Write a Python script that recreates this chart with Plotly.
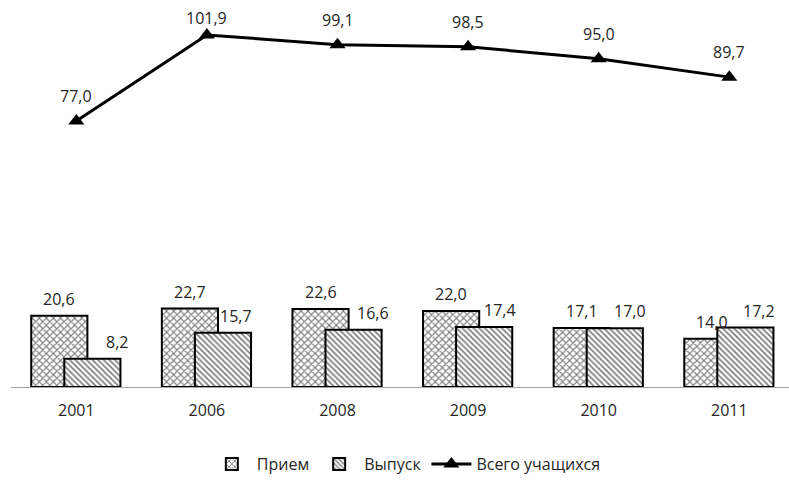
import plotly.graph_objects as go

# Data
years = ["2001", "2006", "2008", "2009", "2010", "2011"]
priem = [20.6, 22.7, 22.6, 22.0, 17.1, 14.0]      # Прием
vypusk = [8.2, 15.7, 16.6, 17.4, 17.0, 17.2]      # Выпуск
vsego = [77.0, 101.9, 99.1, 98.5, 95.0, 89.7]     # Всего учащихся

xs = list(range(len(years)))
FONT = "Open Sans"
TXT = "#262626"

BAR_W = 0.43
OFF_P = -0.345
OFF_V = -0.092
# label nudges (px)
v_label_shift = [25, 13, 19, 16, 15, 14]
line_label_lift = [25, 17, 25, 25, 25, 25]


def fmt(v):
    return f"{v:.1f}".replace(".", ",")


fig = go.Figure()

fig.add_trace(go.Bar(
    name="Прием", x=xs, y=priem, width=BAR_W, offset=OFF_P,
    marker=dict(color="white", line=dict(color="black", width=2),
                pattern=dict(shape="x", size=5, solidity=0.4,
                             fgcolor="black", bgcolor="white")),
))
fig.add_trace(go.Bar(
    name="Выпуск", x=xs, y=vypusk, width=BAR_W, offset=OFF_V,
    marker=dict(color="white", line=dict(color="black", width=2),
                pattern=dict(shape="\\", size=4, solidity=0.45,
                             fgcolor="black", bgcolor="white")),
))
fig.add_trace(go.Scatter(
    name="Всего учащихся", x=xs, y=vsego, mode="lines+markers",
    line=dict(color="black", width=3),
    marker=dict(symbol="triangle-up", size=14, color="black"),
))

ann = []
for i, v in enumerate(priem):
    ann.append(dict(x=i + OFF_P + BAR_W / 2, y=v, text=fmt(v), showarrow=False,
                    yshift=17, yanchor="middle"))
for i, v in enumerate(vypusk):
    ann.append(dict(x=i + OFF_V + BAR_W / 2, y=v, text=fmt(v), showarrow=False,
                    yshift=17, xshift=v_label_shift[i], yanchor="middle"))
for i, v in enumerate(vsego):
    ann.append(dict(x=i, y=v, text=fmt(v), showarrow=False,
                    yshift=line_label_lift[i], yanchor="middle"))

fig.update_layout(
    width=789, height=481,
    margin=dict(l=11, r=0, t=7, b=94),
    paper_bgcolor="white", plot_bgcolor="white",
    barmode="overlay",
    font=dict(family=FONT, size=16, color=TXT),
    annotations=ann,
    showlegend=True,
    legend=dict(orientation="h", x=0.515, xanchor="center", xref="container",
                y=-0.04, yanchor="bottom", yref="container",
                font=dict(family=FONT, size=16, color=TXT), traceorder="normal",
                itemwidth=40),
    xaxis=dict(range=[-0.5, 5.457], tickvals=xs, ticktext=years,
               showline=True, linecolor="#a6a6a6", linewidth=1,
               showgrid=False, zeroline=False, ticks="", ticklabelstandoff=9,
               fixedrange=True),
    yaxis=dict(range=[0, 110], visible=False, showgrid=False, zeroline=False),
)

fig.write_html("out.html")
